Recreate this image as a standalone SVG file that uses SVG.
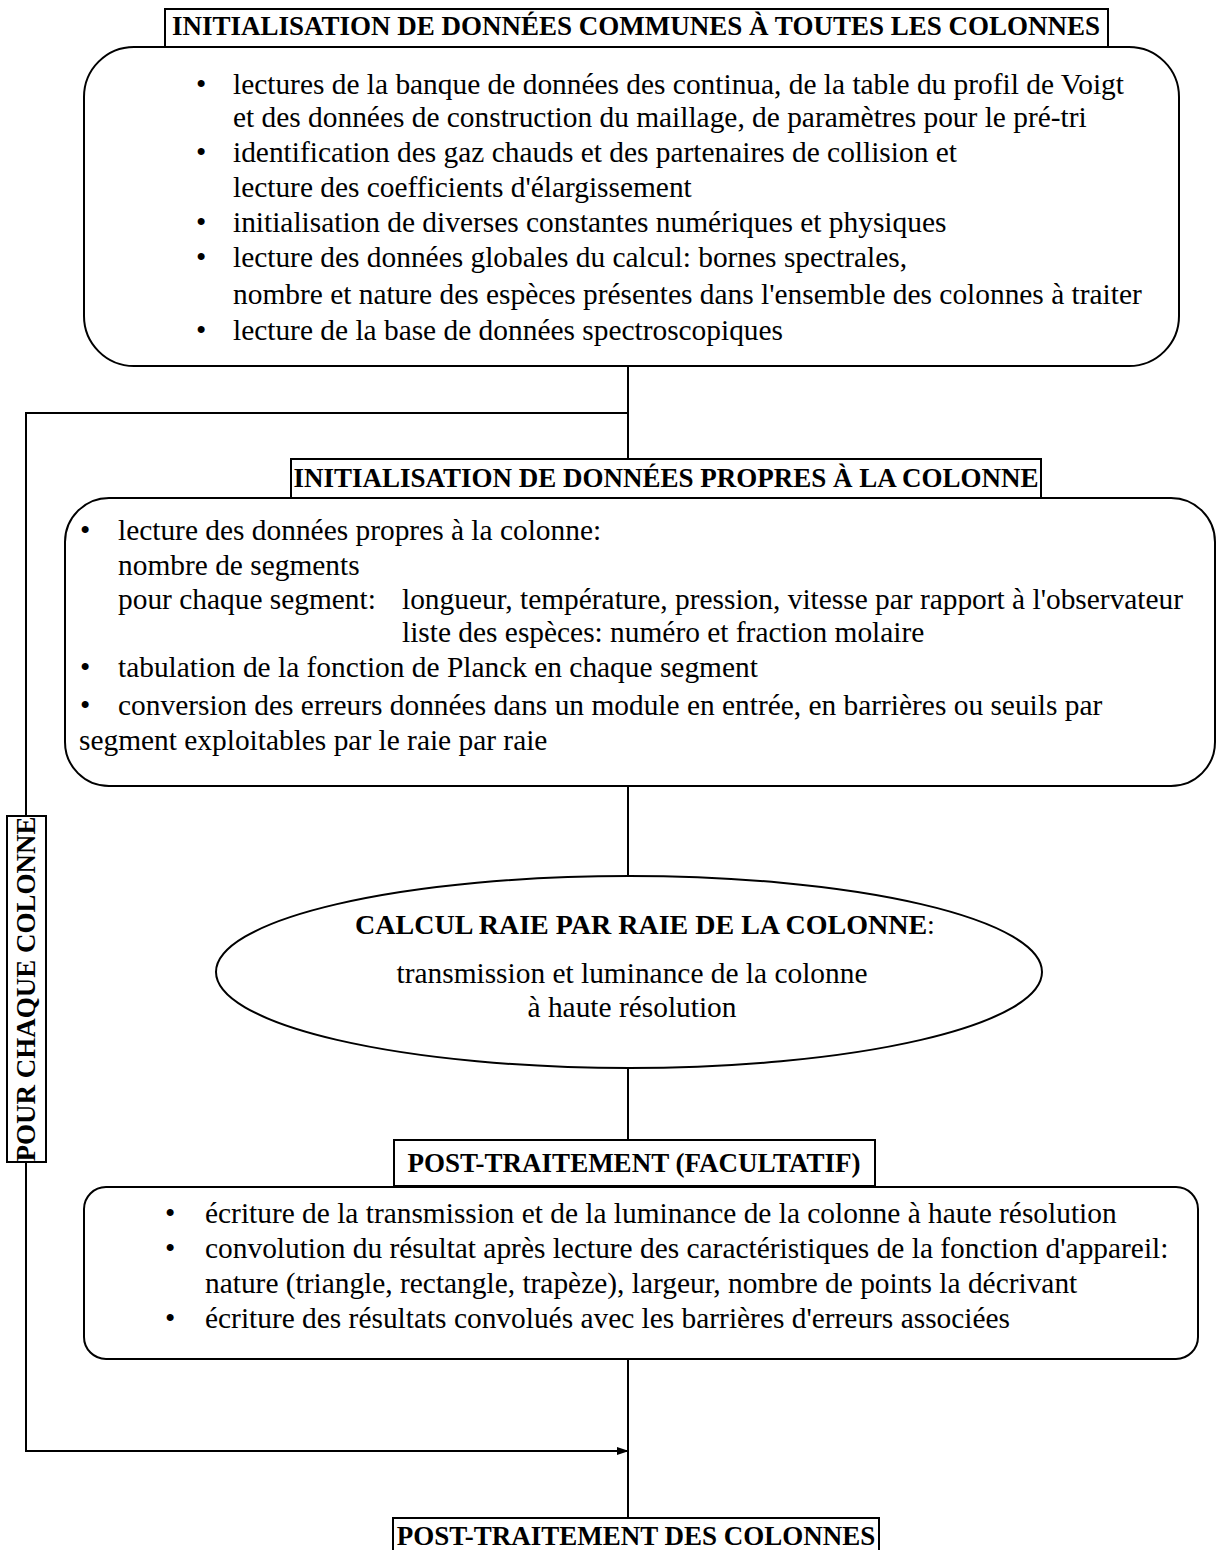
<svg xmlns="http://www.w3.org/2000/svg" width="1217" height="1550" viewBox="0 0 1217 1550">
<style>
  .t { font-family: "Liberation Serif", "Times New Roman", serif; font-size: 29.4px; fill: #000; }
  .b { font-family: "Liberation Serif", "Times New Roman", serif; font-size: 27px; font-weight: bold; fill: #000; }
  .shape { fill: #fff; stroke: #000; stroke-width: 2; }
  .ln { fill: none; stroke: #000; stroke-width: 2; }
</style>
<defs>
  <marker id="arr" markerWidth="12" markerHeight="10" refX="11" refY="5" orient="auto" markerUnits="userSpaceOnUse">
    <path d="M0,1 L12,5 L0,9 Z" fill="#000"/>
  </marker>
</defs>
<rect width="1217" height="1550" fill="#fff"/>

<g id="connectors">
  <line class="ln" x1="628" y1="366" x2="628" y2="459"/>
  <polyline class="ln" points="628,413 26,413 26,1451 628,1451" marker-end="url(#arr)"/>
  <line class="ln" x1="628" y1="787" x2="628" y2="876"/>
  <line class="ln" x1="628" y1="1068" x2="628" y2="1140"/>
  <line class="ln" x1="628" y1="1359" x2="628" y2="1518"/>
</g>

<g id="title-communes">
  <rect class="shape" x="165" y="9" width="943" height="38"/>
  <text class="b" x="636" y="35" text-anchor="middle">INITIALISATION DE DONNÉES COMMUNES À TOUTES LES COLONNES</text>
</g>

<g id="box-communes">
  <rect class="shape" x="84" y="47" width="1095" height="319" rx="50" ry="50"/>
  <text class="t" x="196" y="94">•</text><text class="t" x="233" y="94">lectures de la banque de données des continua, de la table du profil de Voigt</text>
  <text class="t" x="233" y="127">et des données de construction du maillage, de paramètres pour le pré-tri</text>
  <text class="t" x="196" y="162">•</text><text class="t" x="233" y="162">identification des gaz chauds et des partenaires de collision et</text>
  <text class="t" x="233" y="197">lecture des coefficients d'élargissement</text>
  <text class="t" x="196" y="232">•</text><text class="t" x="233" y="232">initialisation de diverses constantes numériques et physiques</text>
  <text class="t" x="196" y="267">•</text><text class="t" x="233" y="267">lecture des données globales du calcul: bornes spectrales,</text>
  <text class="t" x="233" y="304">nombre et nature des espèces présentes dans l'ensemble des colonnes à traiter</text>
  <text class="t" x="196" y="340">•</text><text class="t" x="233" y="340">lecture de la base de données spectroscopiques</text>
</g>

<g id="title-propres">
  <rect class="shape" x="291" y="459" width="750" height="39"/>
  <text class="b" x="666" y="487" text-anchor="middle">INITIALISATION DE DONNÉES PROPRES À LA COLONNE</text>
</g>

<g id="box-propres">
  <rect class="shape" x="65" y="498" width="1150" height="288" rx="44" ry="44"/>
  <text class="t" x="80" y="540">•</text><text class="t" x="118" y="540">lecture des données propres à la colonne:</text>
  <text class="t" x="118" y="575">nombre de segments</text>
  <text class="t" x="118" y="609">pour chaque segment:</text><text class="t" x="402" y="609">longueur, température, pression, vitesse par rapport à l'observateur</text>
  <text class="t" x="402" y="642">liste des espèces: numéro et fraction molaire</text>
  <text class="t" x="80" y="677">•</text><text class="t" x="118" y="677">tabulation de la fonction de Planck en chaque segment</text>
  <text class="t" x="80" y="715">•</text><text class="t" x="118" y="715">conversion des erreurs données dans un module en entrée, en barrières ou seuils par</text>
  <text class="t" x="79" y="750">segment exploitables par le raie par raie</text>
</g>

<g id="loop-label">
  <rect class="shape" x="7" y="816" width="39" height="346"/>
  <text class="b" transform="translate(35,989) rotate(-90)" text-anchor="middle">POUR CHAQUE COLONNE</text>
</g>

<g id="calcul">
  <ellipse class="shape" cx="629" cy="972" rx="413" ry="96"/>
  <text class="b" x="645" y="934" text-anchor="middle" style="font-size:28px">CALCUL RAIE PAR RAIE DE LA COLONNE<tspan style="font-weight:normal">:</tspan></text>
  <text class="t" x="632" y="983" text-anchor="middle">transmission et luminance de la colonne</text>
  <text class="t" x="632" y="1017" text-anchor="middle">à haute résolution</text>
</g>

<g id="title-post">
  <rect class="shape" x="394" y="1140" width="481" height="46"/>
  <text class="b" x="634" y="1172" text-anchor="middle">POST-TRAITEMENT (FACULTATIF)</text>
</g>

<g id="box-post">
  <rect class="shape" x="84" y="1187" width="1114" height="172" rx="22" ry="22"/>
  <text class="t" x="165" y="1223">•</text><text class="t" x="205" y="1223">écriture de la transmission et de la luminance de la colonne à haute résolution</text>
  <text class="t" x="165" y="1258">•</text><text class="t" x="205" y="1258">convolution du résultat après lecture des caractéristiques de la fonction d'appareil:</text>
  <text class="t" x="205" y="1293">nature (triangle, rectangle, trapèze), largeur, nombre de points la décrivant</text>
  <text class="t" x="165" y="1328">•</text><text class="t" x="205" y="1328">écriture des résultats convolués avec les barrières d'erreurs associées</text>
</g>

<g id="title-colonnes">
  <rect class="shape" x="393" y="1518" width="486" height="36"/>
  <text class="b" x="636" y="1545" text-anchor="middle">POST-TRAITEMENT DES COLONNES</text>
</g>
</svg>
